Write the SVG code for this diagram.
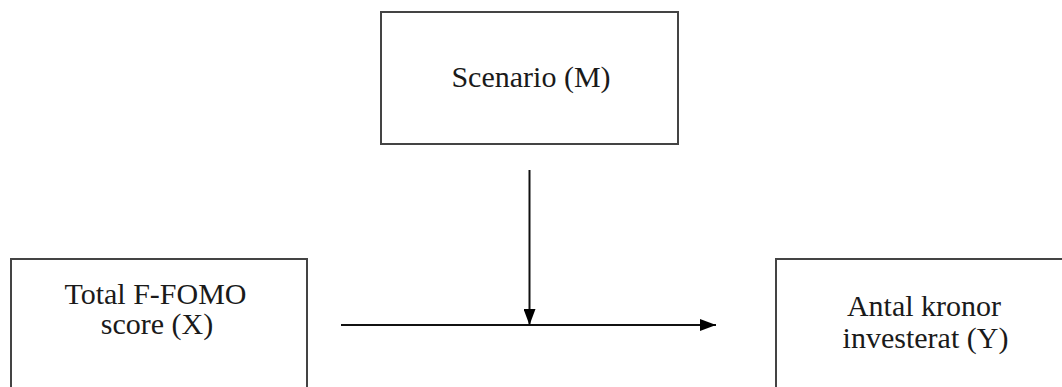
<svg xmlns="http://www.w3.org/2000/svg" width="1062" height="387" viewBox="0 0 1062 387">
  <style>
    .box { fill: #ffffff; stroke: #444444; stroke-width: 2; }
    .lbl { font-family: "Liberation Serif", serif; font-size: 30px; fill: #1a1a1a; text-anchor: middle; }
    .conn { stroke: #111111; stroke-width: 2; fill: none; }
  </style>
  <defs>
    <marker id="arrow" viewBox="0 0 16 12" refX="16" refY="6" markerWidth="16" markerHeight="12" markerUnits="userSpaceOnUse" orient="auto">
      <path d="M0,0 L16,6 L0,12 Z" fill="#000000"/>
    </marker>
  </defs>
  <rect width="1062" height="387" fill="#ffffff"/>
  <g id="node-m">
    <rect class="box" x="381" y="12" width="297" height="132"/>
    <text class="lbl" x="531" y="87">Scenario (M)</text>
  </g>
  <g id="node-x">
    <rect class="box" x="11" y="259" width="296" height="140"/>
    <text class="lbl" x="155.5" y="304">Total F-FOMO</text>
    <text class="lbl" x="157" y="334">score (X)</text>
  </g>
  <g id="node-y">
    <rect class="box" x="776" y="259" width="300" height="140"/>
    <text class="lbl" x="924" y="316">Antal kronor</text>
    <text class="lbl" x="925.5" y="348">investerat (Y)</text>
  </g>
  <g id="connectors">
    <line class="conn" x1="341" y1="325" x2="716" y2="325" marker-end="url(#arrow)"/>
    <line class="conn" x1="529.5" y1="170" x2="529.5" y2="325" marker-end="url(#arrow)"/>
  </g>
</svg>
